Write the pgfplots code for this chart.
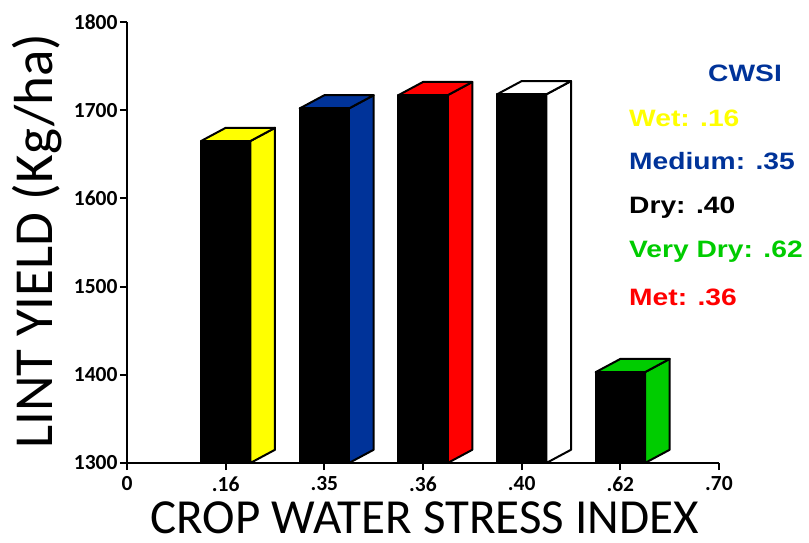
\documentclass[border=0pt]{standalone}
\usepackage{pgfplots}
\pgfplotsset{compat=1.18}
\usepackage{fontspec}
\setmainfont{Carlito}
\newfontfamily\legfont[FakeStretch=1.19]{Liberation Sans}
\definecolor{cyel}{RGB}{255,255,0}
\definecolor{cblu}{RGB}{0,51,153}
\definecolor{cred}{RGB}{255,0,0}
\definecolor{cgrn}{RGB}{0,204,0}
% 3D bar: #1 = x position, #2 = value, #3 = side/top colour
\newcommand\tbar[3]{%
  \pgfmathsetmacro\xl{#1-0.25}%
  \pgfmathsetmacro\xr{#1+0.25}%
  \pgfmathsetmacro\xb{#1+0.5}%
  \pgfmathsetmacro\yt{#2+15}%
  \addplot[fill=#3, draw=black, line width=2pt, line join=round] coordinates {(\xr,1300) (\xb,1315) (\xb,\yt) (\xr,#2)} -- cycle;
  \addplot[fill=#3, draw=black, line width=2pt, line join=round] coordinates {(\xl,#2) (#1,\yt) (\xb,\yt) (\xr,#2)} -- cycle;
  \addplot[fill=black, draw=black, line width=2pt, line join=round] coordinates {(\xl,1300) (\xl,#2) (\xr,#2) (\xr,1300)} -- cycle;
}
\begin{document}
\begin{tikzpicture}
\path[use as bounding box] (-127pt,-79pt) rectangle (682pt,463pt);
\begin{axis}[
  at={(0,0)}, anchor=south west,
  scale only axis, width=592pt, height=441pt,
  xmin=0, xmax=6, ymin=1300, ymax=1800,
  clip=false,
  axis lines=left,
  axis line style={-, line width=2.5pt},
  tick align=outside,
  major tick length=7pt,
  every tick/.style={black, line width=2pt},
  xtick={0,1,2,3,4,5,6},
  xticklabels={0,.16,.35,.36,.40,.62,.70},
  ytick={1300,1400,1500,1600,1700,1800},
  yticklabels={1300,1400,1500,1600,1700,1800},
  ticklabel style={font=\fontsize{21.5}{23}\selectfont\bfseries},
  xticklabel style={yshift=-3pt},
  yticklabel style={xshift=1pt},
  xlabel={CROP WATER STRESS INDEX},
  ylabel={LINT YIELD (Kg/ha)},
  xlabel style={at={(axis description cs:0.503,-0.125)}, anchor=center, inner sep=0pt, font=\fontsize{49}{53}\selectfont},
  ylabel style={at={(axis description cs:-0.152,0.503)}, anchor=center, rotate=0, font=\fontsize{55}{60}\selectfont},
]
\tbar{1}{1665}{cyel}
\tbar{2}{1702}{cblu}
\tbar{3}{1717}{cred}
\tbar{4}{1718}{white}
\tbar{5}{1403}{cgrn}
\end{axis}
\begin{scope}[every node/.style={anchor=west, inner sep=0pt, font=\legfont\fontsize{23.7}{26}\selectfont\bfseries}]
\node[text=cblu] at (581pt,390pt) {CWSI};
\node[text=cyel] at (502pt,345pt) {Wet: .16};
\node[text=cblu] at (502pt,302pt) {Medium: .35};
\node[text=black] at (502pt,255pt) {Dry: .40};
\node[text=cgrn] at (502pt,211pt) {Very Dry: .62};
\node[text=cred] at (502pt,166pt) {Met: .36};
\end{scope}
\end{tikzpicture}
\end{document}
